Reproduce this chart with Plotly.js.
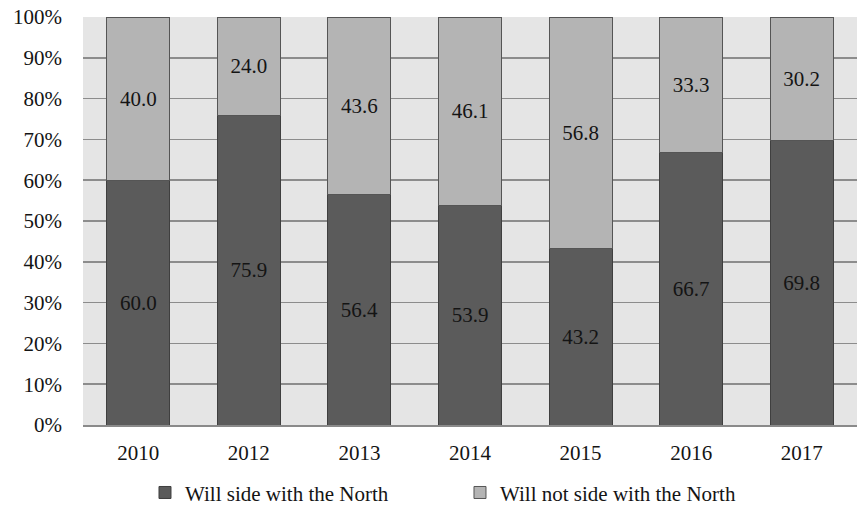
<!DOCTYPE html>
<html>
<head>
<meta charset="utf-8">
<script src="https://cdn.plot.ly/plotly-3.0.1.min.js"></script>
<style>html,body{margin:0;padding:0;background:#fff;}#chart{width:858px;height:506px;}</style>
</head>
<body>
<div id="chart"></div>
<script>
const years = ["2010","2012","2013","2014","2015","2016","2017"];
const sideWithNorth = [60.0, 75.9, 56.4, 53.9, 43.2, 66.7, 69.8];
const notSideWithNorth = [40.0, 24.0, 43.6, 46.1, 56.8, 33.3, 30.2];
const seriesNames = ["Will side with the North", "Will not side with the North"];
const yTickVals = [0,10,20,30,40,50,60,70,80,90,100];
const yTickText = yTickVals.map(v => v + "%");

const FAM = "Liberation Serif";
const f = (s) => ({family: FAM, size: s, color: "#141414"});

const traces = [
  {type: "bar", name: seriesNames[0], x: years, y: sideWithNorth,
   text: sideWithNorth.map(v => v.toFixed(1)), textposition: "inside", insidetextanchor: "middle",
   textfont: f(21), insidetextfont: f(21), textangle: 0, constraintext: "none",
   marker: {color: "#5b5b5b", line: {color: "#3f3f3f", width: 1}}, hoverinfo: "none"},
  {type: "bar", name: seriesNames[1], x: years, y: notSideWithNorth,
   text: notSideWithNorth.map(v => v.toFixed(1)), textposition: "inside", insidetextanchor: "middle",
   textfont: f(21), insidetextfont: f(21), textangle: 0, constraintext: "none",
   marker: {color: "#b4b4b4", line: {color: "#555555", width: 1}}, hoverinfo: "none"}
];

const layout = {
  width: 858, height: 506,
  margin: {l: 83, r: 1, t: 17, b: 81},
  barmode: "stack", bargap: 0.43,
  paper_bgcolor: "#ffffff", plot_bgcolor: "#e5e5e5",
  font: f(21),
  xaxis: {type: "category", showgrid: false, ticks: "", tickfont: f(21),
          showline: true, linecolor: "#8a8a8a", linewidth: 1.5, ticklabelstandoff: 8},
  yaxis: {range: [0, 100], tickmode: "array", tickvals: yTickVals, ticktext: yTickText,
          showgrid: true, gridcolor: "#8c8c8c", gridwidth: 1.5, zeroline: false,
          tickfont: f(21), ticks: "", ticklabelstandoff: 20},
  legend: {orientation: "h", x: 0.0801, xanchor: "left", yref: "container", y: 0.026, yanchor: "middle",
           font: f(21), traceorder: "normal", itemwidth: 30, entrywidth: 270, entrywidthmode: "pixels"},
  showlegend: true
};

Plotly.newPlot("chart", traces, layout, {displayModeBar: false, staticPlot: true});
</script>
</body>
</html>
